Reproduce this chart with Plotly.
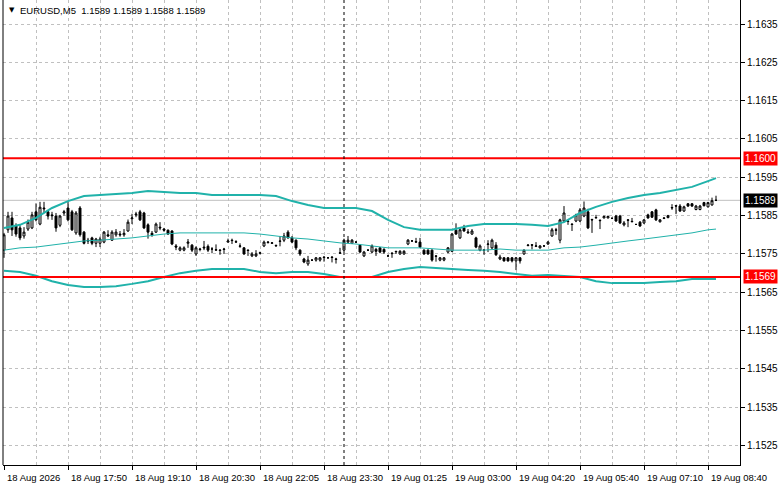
import plotly.graph_objects as go

# EURUSD M5, prices kept as points (1e-5) above BASE
BASE = 1.15

OPEN = [
    760, 813, 844, 823, 818, 797, 815, 818, 860, 828,
    870, 860, 852, 849, 825, 857, 870, 860, 805, 870,
    807, 786, 792, 778, 778, 781, 800, 786, 800, 802,
    800, 810, 842, 852, 860, 857, 826, 804, 807, 820,
    815, 812, 810, 771, 760, 760, 778, 773, 750, 763,
    768, 770, 763, 760, 760, 763, 781, 786, 781, 770,
    766, 760, 745, 745, 752, 771, 780, 778, 771, 784,
    786, 807, 792, 786, 760, 737, 724, 734, 734, 734,
    742, 740, 742, 737, 752, 760, 781, 778, 781, 773,
    745, 760, 755, 762, 766, 762, 745, 752, 757, 750,
    750, 776, 784, 781, 781, 760, 760, 760, 745, 734,
    734, 755, 757, 812, 792, 818, 805, 802, 792, 760,
    760, 775, 766, 773, 737, 740, 740, 740, 732, 740,
    750, 772, 774, 770, 766, 771, 776, 797, 813, 786,
    836, 836, 828, 836, 836, 849, 860, 840, 844, 838,
    844, 844, 843, 849, 849, 826, 839, 834, 827, 833,
    831, 852, 860, 865, 834, 844, 845, 870, 876, 875,
    862, 881, 881, 866, 866, 884, 873, 878, 890,
]
HIGH = [
    805, 860, 860, 830, 825, 820, 840, 860, 882, 886,
    886, 862, 860, 857, 852, 865, 886, 865, 862, 875,
    810, 792, 795, 792, 795, 810, 812, 812, 815, 810,
    815, 840, 855, 860, 865, 860, 830, 810, 832, 833,
    818, 814, 812, 776, 770, 770, 789, 776, 770, 766,
    784, 775, 768, 775, 763, 766, 790, 790, 786, 778,
    768, 762, 755, 760, 756, 785, 783, 781, 775, 797,
    805, 812, 797, 788, 762, 740, 745, 736, 742, 742,
    744, 742, 744, 740, 766, 790, 797, 789, 783, 776,
    758, 762, 775, 766, 768, 765, 748, 755, 758, 760,
    760, 789, 786, 792, 792, 762, 762, 762, 747, 742,
    742, 768, 805, 830, 818, 826, 815, 815, 795, 775,
    762, 786, 790, 781, 748, 742, 742, 742, 742, 742,
    762, 776, 776, 781, 773, 773, 784, 818, 818, 842,
    875, 838, 830, 855, 870, 887, 868, 842, 852, 840,
    850, 850, 845, 852, 852, 836, 841, 844, 829, 836,
    841, 855, 862, 868, 841, 846, 852, 880, 878, 880,
    876, 883, 883, 878, 878, 886, 886, 897, 902,
]
LOW = [
    740, 805, 797, 795, 786, 790, 810, 815, 835, 825,
    857, 840, 839, 808, 820, 850, 835, 810, 800, 795,
    775, 776, 773, 768, 768, 778, 795, 784, 795, 795,
    795, 808, 828, 846, 836, 815, 790, 795, 805, 812,
    808, 800, 773, 760, 757, 757, 766, 755, 745, 757,
    760, 755, 752, 758, 748, 750, 780, 776, 779, 766,
    748, 745, 742, 742, 749, 768, 777, 776, 769, 770,
    781, 790, 778, 760, 745, 726, 719, 732, 730, 730,
    730, 738, 728, 725, 750, 755, 779, 776, 779, 753,
    742, 758, 752, 745, 752, 750, 742, 740, 750, 748,
    748, 773, 782, 779, 766, 748, 748, 730, 730, 731,
    731, 752, 755, 800, 789, 808, 803, 800, 765, 757,
    748, 755, 763, 745, 734, 730, 730, 728, 708, 725,
    748, 770, 762, 768, 764, 769, 774, 795, 800, 778,
    834, 826, 810, 833, 833, 846, 815, 805, 843, 815,
    843, 843, 841, 834, 828, 822, 820, 833, 826, 821,
    828, 842, 844, 836, 832, 841, 843, 865, 854, 860,
    860, 873, 873, 864, 864, 874, 871, 876, 888,
]
CLOSE = [
    800, 849, 813, 802, 792, 807, 833, 852, 839, 872,
    868, 849, 850, 818, 849, 860, 839, 813, 857, 800,
    778, 784, 778, 789, 789, 807, 797, 807, 807, 800,
    804, 833, 844, 854, 839, 818, 807, 800, 828, 818,
    812, 802, 776, 768, 766, 766, 781, 760, 766, 762,
    766, 760, 763, 761, 759, 762, 784, 785, 782, 771,
    750, 759, 750, 750, 753, 781, 781, 779, 772, 783,
    797, 792, 781, 766, 750, 729, 734, 734, 740, 740,
    741, 740, 741, 736, 753, 786, 786, 786, 781, 755,
    755, 760, 771, 757, 755, 755, 745, 751, 756, 757,
    757, 786, 784, 782, 768, 750, 750, 734, 744, 740,
    740, 766, 802, 802, 813, 810, 807, 810, 768, 771,
    760, 776, 786, 748, 742, 732, 732, 732, 740, 732,
    760, 773, 773, 771, 771, 771, 781, 813, 812, 839,
    857, 835, 827, 852, 865, 870, 818, 839, 845, 837,
    848, 848, 843, 836, 831, 831, 838, 835, 827, 823,
    839, 844, 846, 839, 839, 843, 850, 871, 875, 862,
    873, 875, 875, 875, 875, 876, 884, 889, 890,
]

# Bollinger bands read every 4 bars
BAND_X = list(range(0, 177, 4)) + [178]
BB_UPPER = [
    818, 826, 844, 870, 888, 901, 904, 906, 909, 914,
    912, 909, 909, 904, 904, 904, 904, 901, 888, 878,
    870, 870, 870, 862, 839, 820, 813, 813, 813, 823,
    828, 828, 828, 826, 823, 833, 857, 873, 886, 896,
    904, 909, 917, 925, 940, 948,
]
BB_MIDDLE = [
    760, 766, 768, 773, 779, 784, 786, 789, 792, 797,
    802, 805, 805, 805, 805, 805, 802, 797, 792, 789,
    784, 779, 776, 771, 766, 766, 766, 763, 760, 760,
    760, 763, 760, 760, 760, 766, 768, 773, 779, 784,
    789, 794, 800, 805, 813, 815,
]
BB_LOWER = [
    706, 703, 693, 679, 669, 664, 664, 666, 672, 679,
    690, 700, 706, 711, 711, 711, 703, 700, 703, 703,
    698, 690, 690, 690, 703, 711, 716, 713, 711, 708,
    706, 703, 698, 693, 695, 693, 690, 679, 674, 674,
    674, 677, 679, 685, 685, 685,
]

LEVELS = [1.1600, 1.1569]
LAST_PRICE = 1.1589
DAY_SEPARATOR = 85
TIME_TICKS = list(range(0, 177, 16))
TIME_LABELS = [
    "18 Aug 2026", "18 Aug 17:50", "18 Aug 19:10", "18 Aug 20:30",
    "18 Aug 22:05", "18 Aug 23:30", "19 Aug 01:25", "19 Aug 03:00",
    "19 Aug 04:20", "19 Aug 05:40", "19 Aug 07:10", "19 Aug 08:40",
]
TITLE = "EURUSD,M5  1.1589 1.1589 1.1588 1.1589"


def to_price(points):
    return [round(BASE + p / 1e5, 5) for p in points]


FONT = "Liberation Sans"
BAND_COLOR = "#20b2aa"
GRID = "#c0c0c0"

bars = list(range(len(CLOSE)))

fig = go.Figure()
fig.add_trace(go.Candlestick(
    x=bars, open=to_price(OPEN), high=to_price(HIGH),
    low=to_price(LOW), close=to_price(CLOSE),
    increasing=dict(fillcolor="white", line=dict(color="black", width=1)),
    decreasing=dict(fillcolor="black", line=dict(color="black", width=1)),
    whiskerwidth=0, showlegend=False, hoverinfo="skip",
))
for band, w in ((BB_UPPER, 2), (BB_MIDDLE, 1), (BB_LOWER, 2)):
    fig.add_trace(go.Scatter(
        x=BAND_X, y=to_price(band), mode="lines",
        line=dict(color=BAND_COLOR, width=w), showlegend=False, hoverinfo="skip",
    ))

# bid line, support/resistance, day separator, left frame
fig.add_shape(type="line", xref="paper", x0=0, x1=1, y0=LAST_PRICE, y1=LAST_PRICE,
              line=dict(color=GRID, width=1), layer="below")
for lvl in LEVELS:
    fig.add_shape(type="line", xref="paper", x0=0, x1=1, y0=lvl, y1=lvl,
                  line=dict(color="#ff0000", width=2))
fig.add_shape(type="line", yref="paper", x0=DAY_SEPARATOR, x1=DAY_SEPARATOR, y0=0, y1=1,
              line=dict(color="black", width=1, dash="3px,3px"))
fig.add_shape(type="line", xref="paper", yref="paper", x0=0, x1=0, y0=0, y1=1,
              line=dict(color="black", width=1))

# price tags on the right axis
for lvl, bg in ((LEVELS[0], "#ff0000"), (LAST_PRICE, "black"), (LEVELS[1], "#ff0000")):
    fig.add_annotation(xref="paper", x=1, xanchor="left", xshift=3, y=lvl, yanchor="middle",
                       text=f"{lvl:.4f}", showarrow=False, bgcolor=bg, borderpad=1,
                       font=dict(family=FONT, size=10, color="white"))

for t, lab in zip(TIME_TICKS, TIME_LABELS):
    fig.add_annotation(x=t, xanchor="left", xshift=1, yref="paper", y=0, yanchor="top",
                       yshift=-5, text=lab, showarrow=False,
                       font=dict(family=FONT, size=9.5, color="black"))

fig.add_annotation(xref="paper", yref="paper", x=0, y=1, xanchor="left", yanchor="top",
                   xshift=4, yshift=-4, text="▼", showarrow=False,
                   font=dict(family="DejaVu Sans", size=7, color="black"))
fig.add_annotation(xref="paper", yref="paper", x=0, y=1, xanchor="left", yanchor="top",
                   xshift=15, yshift=-3, text=TITLE, showarrow=False,
                   font=dict(family=FONT, size=9.5, color="black"))

fig.update_layout(
    width=781, height=489,
    margin=dict(l=3, r=41, t=0, b=24),
    paper_bgcolor="white", plot_bgcolor="white",
    font=dict(family=FONT, size=10, color="black"),
    showlegend=False,
    xaxis=dict(
        range=[-0.25, 184], tickmode="linear", tick0=0, dtick=16,
        showticklabels=False, ticks="outside", ticklen=4, tickcolor="black",
        showgrid=True, gridcolor=GRID, griddash="3px,3px", gridwidth=1,
        minor=dict(dtick=8, tick0=0, showgrid=True, gridcolor=GRID, griddash="3px,3px"),
        showline=True, linecolor="black", linewidth=1,
        zeroline=False, rangeslider=dict(visible=False), fixedrange=True,
    ),
    yaxis=dict(
        side="right", range=[1.151995, 1.164126],
        tickmode="linear", tick0=1.1525, dtick=0.001, tickformat=".4f",
        ticks="outside", ticklen=4, tickcolor="black",
        showgrid=True, gridcolor=GRID, griddash="3px,3px", gridwidth=1,
        showline=True, linecolor="black", linewidth=1, zeroline=False,
        tickfont=dict(family=FONT, size=10, color="black"),
    ),
)

# the page body has a default 8px margin; drop it so the figure fills the window
fig.write_html("out.html", config={"displayModeBar": False},
               post_script="document.body.style.margin='0';")
